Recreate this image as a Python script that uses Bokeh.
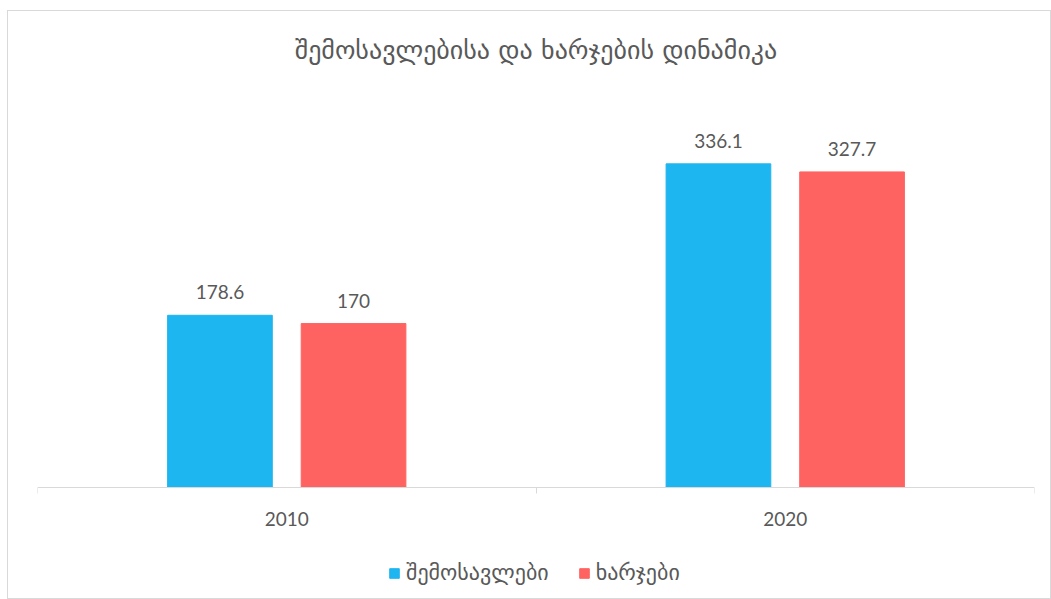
from bokeh.plotting import figure
from bokeh.models import Range1d, FixedTicker, LabelSet, ColumnDataSource
from bokeh.transform import dodge
from bokeh.embed import file_html
from bokeh.resources import INLINE
from bokeh.core.properties import value

title = "შემოსავლებისა და ხარჯების დინამიკა"
years = ["2010", "2020"]
series = ["შემოსავლები", "ხარჯები"]
income = [178.6, 336.1]
expenses = [170, 327.7]
colors = ["#1EB6F0", "#FF6361"]

TEXT = "#595959"
GRID = "#d9d9d9"
GEO_FONT = "DejaVu Sans"
NUM_FONT = "Lato"

xpos = [i + 0.5 for i in range(len(years))]
src = ColumnDataSource(dict(
    x=xpos,
    inc=income,
    exp=expenses,
    inc_lbl=[f"{v:g}" for v in income],
    exp_lbl=[f"{v:g}" for v in expenses],
))

p = figure(width=1044, height=589, output_backend="svg", toolbar_location=None,
           x_range=Range1d(0, len(years)), y_range=Range1d(-118, 434.2),
           min_border_left=29, min_border_right=18, min_border_top=58,
           min_border_bottom=0)
p.styles = {"border": f"1px solid {GRID}", "box-sizing": "border-box",
            "margin-left": "7px", "margin-top": "10px"}

p.title.text = title
p.title.align = "center"
p.title.text_font = GEO_FONT
p.title.text_font_size = "26px"
p.title.text_font_style = "normal"
p.title.text_color = TEXT
p.title.standoff = 10

p.yaxis.visible = False
p.xgrid.visible = False
p.ygrid.visible = False
p.outline_line_color = None

ax = p.xaxis[0]
ax.fixed_location = 0
ax.ticker = FixedTicker(ticks=xpos, minor_ticks=[float(i) for i in range(len(years) + 1)])
ax.major_label_overrides = {x: y for x, y in zip(xpos, years)}
ax.major_tick_line_color = None
ax.major_tick_out = 0
ax.major_tick_in = 0
ax.minor_tick_line_color = GRID
ax.minor_tick_line_width = 1
ax.minor_tick_out = 6
ax.minor_tick_in = 0
ax.axis_line_color = GRID
ax.axis_line_width = 1
ax.major_label_standoff = 19
ax.major_label_text_font = NUM_FONT
ax.major_label_text_font_size = "19px"
ax.major_label_text_color = TEXT

off = 0.134
bw = 0.21
p.vbar(x=dodge("x", -off, range=p.x_range), top="inc", width=bw, color=colors[0],
       source=src, legend_label=series[0])
p.vbar(x=dodge("x", off, range=p.x_range), top="exp", width=bw, color=colors[1],
       source=src, legend_label=series[1])

for field, lbl, o in (("inc", "inc_lbl", -off), ("exp", "exp_lbl", off)):
    p.add_layout(LabelSet(x=dodge("x", o, range=p.x_range), y=field, text=lbl, source=src,
                          y_offset=16, text_align="center", text_baseline="bottom",
                          text_font=value(NUM_FONT), text_font_size="19px",
                          text_color=TEXT))

leg = p.legend[0]
leg.orientation = "horizontal"
leg.location = (351, 15)
leg.border_line_color = None
leg.background_fill_alpha = 0
leg.label_text_font = GEO_FONT
leg.label_text_font_size = "22px"
leg.label_text_color = TEXT
leg.glyph_width = 12
leg.glyph_height = 12
leg.spacing = 29
leg.label_standoff = 6
leg.padding = 0
leg.margin = 0

open("out.html", "w").write(file_html(p, INLINE))
